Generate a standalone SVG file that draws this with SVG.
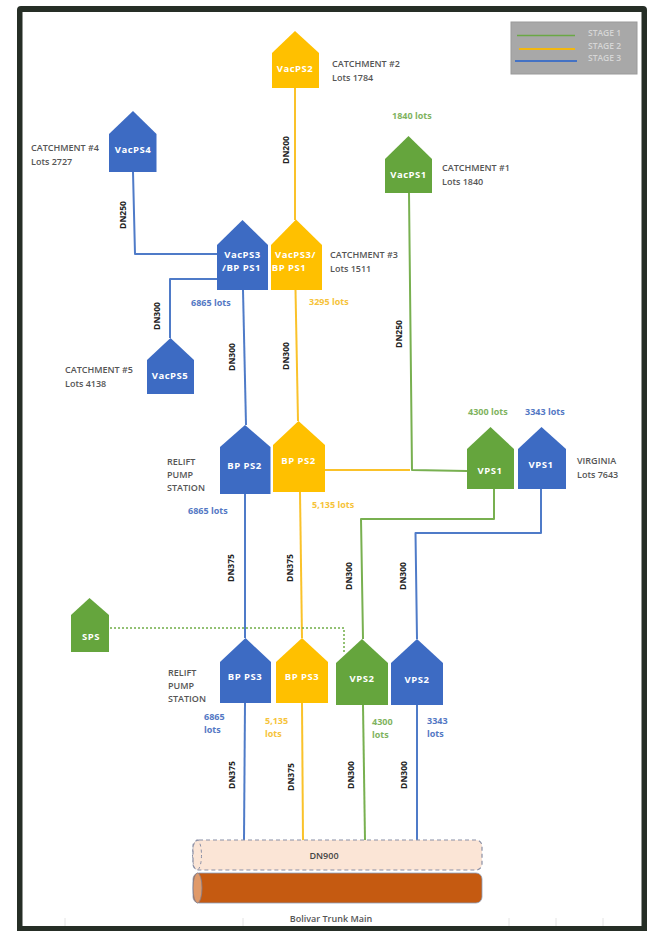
<svg xmlns="http://www.w3.org/2000/svg" width="652" height="931" viewBox="0 0 652 931">
<style>
text{font-family:"Open Sans","Noto Sans","DejaVu Sans",sans-serif}
.nl{font-size:9.500px;font-weight:700;fill:#fff;text-anchor:middle;letter-spacing:.5px}
.cap{font-size:9px;font-weight:600;fill:#555}
.lot{font-size:9px;font-weight:700}
.dn{font-size:8.500px;font-weight:700;fill:#222;text-anchor:middle}
.g{fill:#70ad47}.gn{fill:#65a53d}.y{fill:#ffc000}.b{fill:#4472c4}.bn{fill:#3d6bc3}
.tg{fill:#7fb35f}.ty{fill:#f6c33a}.tb{fill:#5478c4}
.w{fill:none;stroke-width:2;stroke-linejoin:round}
.lg{stroke:#78b050}.ly{stroke:#fac22a}.lb{stroke:#4f7bc8}
.st{font-size:8.500px;fill:#d6d6d6;font-weight:600}
</style>
<rect width="652" height="931" fill="#fff"/>
<!-- sheet frame -->
<path d="M17 10Q17 6 21 6H643Q647 6 647 10V931H17ZM22.500 12V926H641.500V12Z" fill="#262e26" fill-rule="evenodd"/>
<g id="ticks" stroke="#e4e4e4" stroke-width="1"><path d="M65 918V926M243 918V926M509 918V926M556 918V926M603 918V926"/></g>
<!-- legend -->
<g id="legend">
<rect x="511" y="22" width="126" height="52" fill="#a8a8a8" stroke="#9a9a9a"/>
<path d="M517 35.500H575" stroke="#6aa845" stroke-width="1.500"/>
<path d="M519 49H575" stroke="#f2b70f" stroke-width="2"/>
<path d="M515 61H577" stroke="#4472c4" stroke-width="2"/>
<text class="st" x="588" y="36">STAGE 1</text>
<text class="st" x="588" y="49">STAGE 2</text>
<text class="st" x="588" y="61">STAGE 3</text>
</g>
<!-- pipelines between stations -->
<g id="connectors">
<path class="w ly" d="M295 88V220"/>
<path class="w lb" d="M133 172L135 254H217"/>
<path class="w lb" d="M217 279H170V338"/>
<path class="w lb" d="M243 290L246 425"/>
<path class="w ly" d="M295.500 290L298 421"/>
<path class="w lb" d="M245 494V638"/>
<path class="w ly" d="M300 492L302 638"/>
<path class="w ly" d="M325 470H410"/>
<path class="w lg" d="M409 193L412 470L467 471"/>
<path class="w lg" d="M494 489V519H361L363 639"/>
<path class="w lb" d="M541 489V533H415.500L417 639"/>
<path d="M110 628H344V654" fill="none" stroke="#70ad47" stroke-width="1.500" stroke-dasharray="2 2"/>
<path class="w lb" d="M245 703L244 840"/>
<path class="w ly" d="M302 703L303 840"/>
<path class="w lg" d="M363 705L365 840"/>
<path class="w lb" d="M417 705V840"/>
</g>
<!-- pump stations -->
<g id="VacPS2"><path class="y" d="M272 88V53L295 31L319 53V88Z"/><text class="nl" x="295" y="72">VacPS2</text></g>
<g id="VacPS4"><path class="bn" d="M109 172V134L133 111L156.500 134V172Z"/><text class="nl" x="133" y="153">VacPS4</text></g>
<g id="VacPS3-blue"><path class="bn" d="M217 290V245L242.500 220L268 245V290Z"/><text class="nl" x="242.500" y="258">VacPS3</text><text class="nl" x="241.500" y="271">/BP PS1</text></g>
<g id="VacPS3-yellow"><path class="y" d="M271 290V245L296 219.500L322 245V290Z"/><text class="nl" x="295.500" y="258">VacPS3/</text><text class="nl" x="289" y="271">BP PS1</text></g>
<g id="VacPS1"><path class="gn" d="M385 193V159L408.500 136L432 159V193Z"/><text class="nl" x="408.500" y="178">VacPS1</text></g>
<g id="VacPS5"><path class="bn" d="M147 394V360L170.500 338L194 360V394Z"/><text class="nl" x="170" y="379">VacPS5</text></g>
<g id="BPPS2-blue"><path class="bn" d="M220 494V447L245 425L270.500 447V494Z"/><text class="nl" x="244.500" y="469">BP PS2</text></g>
<g id="BPPS2-yellow"><path class="y" d="M273 492V445L298.500 421L325 445V492Z"/><text class="nl" x="298.500" y="464">BP PS2</text></g>
<g id="VPS1-green"><path class="gn" d="M467 489V449L490.500 427L514 449V489Z"/><text class="nl" x="490" y="474">VPS1</text></g>
<g id="VPS1-blue"><path class="bn" d="M518 489V449L541.500 427L566 449V489Z"/><text class="nl" x="541" y="468">VPS1</text></g>
<g id="SPS"><path class="gn" d="M71 652V615L89.500 598L109 615V652Z"/><text class="nl" x="91" y="640">SPS</text></g>
<g id="BPPS3-blue"><path class="bn" d="M220 703V662L245.500 638L271 662V703Z"/><text class="nl" x="245" y="680">BP PS3</text></g>
<g id="BPPS3-yellow"><path class="y" d="M276 703V662L302 638L328 662V703Z"/><text class="nl" x="302" y="680">BP PS3</text></g>
<g id="VPS2-green"><path class="gn" d="M336 705V663L362 639L388 663V705Z"/><text class="nl" x="362" y="682">VPS2</text></g>
<g id="VPS2-blue"><path class="bn" d="M391 705V663L417 639L443 663V705Z"/><text class="nl" x="417" y="683">VPS2</text></g>
<!-- catchment notes -->
<g id="notes">
<text class="cap" x="332" y="67">CATCHMENT #2</text><text class="cap" x="332" y="81">Lots 1784</text>
<text class="cap" x="442" y="171">CATCHMENT #1</text><text class="cap" x="442" y="185">Lots 1840</text>
<text class="cap" x="31" y="151">CATCHMENT #4</text><text class="cap" x="31" y="165">Lots 2727</text>
<text class="cap" x="330" y="258">CATCHMENT #3</text><text class="cap" x="330" y="272">Lots 1511</text>
<text class="cap" x="65" y="373">CATCHMENT #5</text><text class="cap" x="65" y="387">Lots 4138</text>
<text class="cap" x="167" y="465">RELIFT</text><text class="cap" x="167" y="478">PUMP</text><text class="cap" x="167" y="491">STATION</text>
<text class="cap" x="577" y="464">VIRGINIA</text><text class="cap" x="577" y="478">Lots 7643</text>
<text class="cap" x="168" y="676">RELIFT</text><text class="cap" x="168" y="689">PUMP</text><text class="cap" x="168" y="702">STATION</text>
</g>
<!-- lot counts -->
<g id="lots">
<text class="lot tg" x="392" y="119">1840 lots</text>
<text class="lot tb" x="191" y="306">6865 lots</text>
<text class="lot ty" x="309" y="305">3295 lots</text>
<text class="lot tg" x="468" y="415">4300 lots</text>
<text class="lot tb" x="525" y="415">3343 lots</text>
<text class="lot tb" x="188" y="514">6865 lots</text>
<text class="lot ty" x="312" y="508">5,135 lots</text>
<text class="lot tb" x="204" y="720">6865</text><text class="lot tb" x="204" y="733">lots</text>
<text class="lot ty" x="265" y="724">5,135</text><text class="lot ty" x="265" y="737">lots</text>
<text class="lot tg" x="372" y="725">4300</text><text class="lot tg" x="372" y="738">lots</text>
<text class="lot tb" x="427" y="724">3343</text><text class="lot tb" x="427" y="737">lots</text>
</g>
<!-- pipe sizes -->
<g id="sizes">
<text class="dn" transform="translate(289 150) rotate(-90)">DN200</text>
<text class="dn" transform="translate(126 215) rotate(-90)">DN250</text>
<text class="dn" transform="translate(160 316) rotate(-90)">DN300</text>
<text class="dn" transform="translate(235 357) rotate(-90)">DN300</text>
<text class="dn" transform="translate(289 356) rotate(-90)">DN300</text>
<text class="dn" transform="translate(402 334) rotate(-90)">DN250</text>
<text class="dn" transform="translate(234 568) rotate(-90)">DN375</text>
<text class="dn" transform="translate(293 568) rotate(-90)">DN375</text>
<text class="dn" transform="translate(352 576) rotate(-90)">DN300</text>
<text class="dn" transform="translate(406 576) rotate(-90)">DN300</text>
<text class="dn" transform="translate(235 775) rotate(-90)">DN375</text>
<text class="dn" transform="translate(294 777) rotate(-90)">DN375</text>
<text class="dn" transform="translate(354 775) rotate(-90)">DN300</text>
<text class="dn" transform="translate(407 775) rotate(-90)">DN300</text>
</g>
<!-- trunk main -->
<g id="DN900">
<rect x="193" y="840" width="289" height="30" rx="6" fill="#fbe5d6" stroke="#8a8fa5" stroke-width="1.200" stroke-dasharray="4 3"/>
<ellipse cx="197" cy="855" rx="4.500" ry="15" fill="none" stroke="#8a8fa5" stroke-width="1" stroke-dasharray="3 3"/>
<text x="324" y="859" font-size="9" font-weight="600" fill="#444" text-anchor="middle">DN900</text>
</g>
<g id="trunk">
<rect x="193" y="873" width="289" height="30" rx="6" fill="#c55a11" stroke="#8aa0bd" stroke-width=".8"/>
<ellipse cx="197.500" cy="888" rx="4.500" ry="15" fill="#e09a6a" stroke="#7f7f90" stroke-width=".8"/>
<text x="331" y="922" font-size="9" font-weight="600" fill="#555" text-anchor="middle">Bolivar Trunk Main</text>
</g>
</svg>
